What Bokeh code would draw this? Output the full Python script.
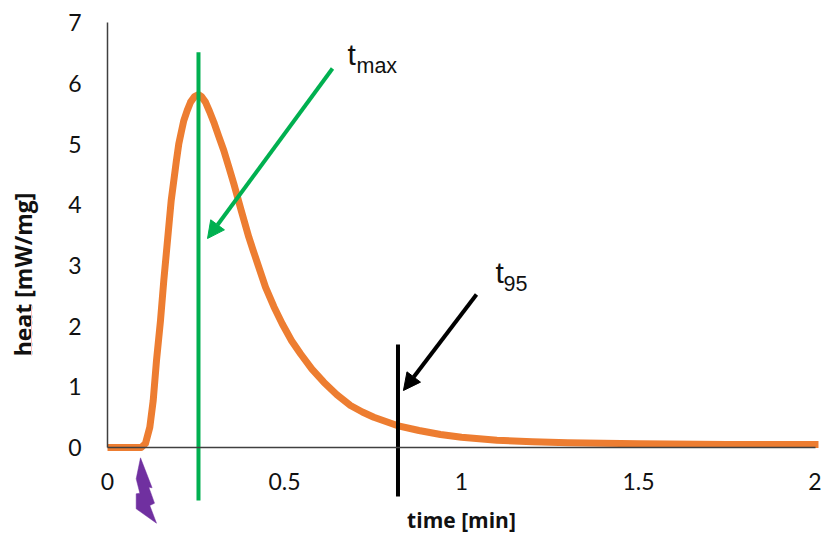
from bokeh.plotting import figure
from bokeh.models import Range1d, FixedTicker, Arrow, NormalHead
from bokeh.core.properties import value
from bokeh.embed import file_html
from bokeh.resources import INLINE

time_min = [0, 0.0952, 0.1073, 0.1195, 0.1291, 0.1384, 0.1497, 0.159, 0.1686, 0.1799, 0.1873, 0.1945, 0.2014,
            0.2085, 0.2155, 0.225, 0.2345, 0.2458, 0.2571, 0.2655, 0.2768, 0.288, 0.3003, 0.314, 0.3285, 0.3427,
            0.3568, 0.3777, 0.3992, 0.4116, 0.4463, 0.47, 0.4935, 0.52, 0.5452, 0.5775, 0.611, 0.648, 0.6864,
            0.72, 0.7523, 0.8184, 0.88, 0.9407, 1.0, 1.1, 1.2, 1.3, 1.5, 1.75, 2.0085]
heat = [0, 0, 0.066, 0.334, 0.774, 1.433, 2.092, 2.751, 3.356, 4.069, 4.399, 4.72, 5.003,
        5.2, 5.387, 5.55, 5.689, 5.78, 5.815, 5.78, 5.689, 5.54, 5.359, 5.13, 4.893, 4.62,
        4.344, 3.904, 3.465, 3.245, 2.641, 2.32, 2.038, 1.76, 1.544, 1.29, 1.076, 0.87, 0.692,
        0.585, 0.499, 0.362, 0.28, 0.214, 0.17, 0.12, 0.095, 0.08, 0.06, 0.05, 0.05]

x_ticks = [0, 0.5, 1, 1.5, 2]
x_tick_labels = {0: "0", 0.5: "0.5", 1: "1", 1.5: "1.5", 2: "2"}
y_ticks = [0, 1, 2, 3, 4, 5, 6, 7]

tmax_x = 0.257
tmax_span = [-0.873, 6.51]
t95_x = 0.8206
t95_span = [-0.807, 1.697]
tmax_arrow = (0.6356, 6.244, 0.2825, 3.443)
t95_arrow = (1.0424, 2.52, 0.836, 0.939)

flash_x = [0.0932, 0.081, 0.0913, 0.081, 0.081, 0.1384, 0.1195, 0.1328, 0.1167, 0.126]
flash_y = [-0.17, -0.516, -0.752, -0.763, -1.01, -1.247, -0.956, -0.917, -0.654, -0.664]

ORANGE, GREEN, PURPLE = "#ED7D31", "#00B050", "#7030A0"

p = figure(width=821, height=534, output_backend="svg", toolbar_location=None,
           x_range=Range1d(-0.3023, 2.017), y_range=Range1d(-1.433, 7.364),
           min_border=0, min_border_left=0, min_border_right=0, min_border_top=0, min_border_bottom=0,
           background_fill_color="white", outline_line_color=None)
p.grid.visible = False

for ax, ticks in ((p.xaxis[0], x_ticks), (p.yaxis[0], y_ticks)):
    ax.fixed_location = 0
    ax.ticker = FixedTicker(ticks=ticks)
    ax.major_tick_line_color = None
    ax.minor_tick_line_color = None
    ax.axis_line_color = "#404040"
    ax.axis_line_width = 1.5
    ax.major_label_text_font = "Lato"
    ax.major_label_text_font_size = "23px"
    ax.major_label_text_color = "#111111"
p.xaxis[0].major_label_overrides = x_tick_labels
p.xaxis[0].major_label_standoff = 19
p.yaxis[0].major_label_standoff = 20
p.xaxis[0].bounds = (0, 2)
p.yaxis[0].bounds = (0, 7)

p.line(time_min, heat, line_color=ORANGE, line_width=7, line_join="round")

p.line([tmax_x, tmax_x], tmax_span, line_color=GREEN, line_width=4)
p.line([t95_x, t95_x], t95_span, line_color="black", line_width=4)

p.add_layout(Arrow(x_start=tmax_arrow[0], y_start=tmax_arrow[1], x_end=tmax_arrow[2], y_end=tmax_arrow[3],
                   line_color=GREEN, line_width=4,
                   end=NormalHead(size=17, fill_color=GREEN, line_color=GREEN, line_width=1)))
p.add_layout(Arrow(x_start=t95_arrow[0], y_start=t95_arrow[1], x_end=t95_arrow[2], y_end=t95_arrow[3],
                   line_color="black", line_width=4,
                   end=NormalHead(size=17, fill_color="black", line_color="black", line_width=1)))

p.patch(flash_x, flash_y, fill_color=PURPLE, line_color=PURPLE, line_width=0.5)

arial = value("Liberation Sans")
p.text([0.678], [6.475], text=["t"], text_font=arial, text_font_size="30px", text_baseline="alphabetic", text_color="#111111")
p.text([0.7034], [6.29], text=["max"], text_font=arial, text_font_size="21.5px", text_baseline="alphabetic", text_color="#111111")
p.text([1.096], [2.883], text=["t"], text_font=arial, text_font_size="30px", text_baseline="alphabetic", text_color="#111111")
p.text([1.119], [2.696], text=["95"], text_font=arial, text_font_size="21.5px", text_baseline="alphabetic", text_color="#111111")

bold_font = value("Open Sans")
p.text([1.0], [-1.19], text=["time [min]"], text_font=bold_font, text_font_size="21px", text_font_style="bold",
       text_align="center", text_baseline="middle", text_color="#111111")
p.text([-0.24], [2.85], text=["heat [mW/mg]"], text_font=bold_font, text_font_size="23px", text_font_style="bold",
       text_align="center", text_baseline="middle", angle=1.5708, text_color="#111111")
# spell-check underline under "heat"
p.line([-0.2147, -0.2147], [1.516, 2.34], line_color="#F8BDBD", line_width=1)

open("out.html", "w").write(file_html(p, INLINE))
